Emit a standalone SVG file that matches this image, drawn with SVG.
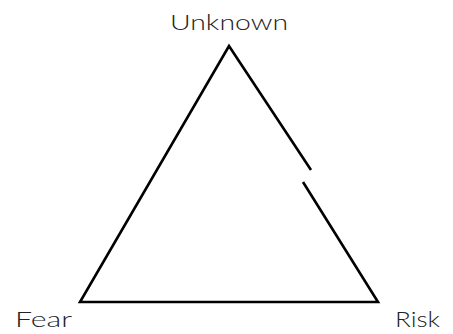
<svg xmlns="http://www.w3.org/2000/svg" width="453" height="334" viewBox="0 0 453 334">
<style>
.lbl{font-family:Lato,"Liberation Sans",sans-serif;font-weight:300;font-size:21px;fill:#222;}
.edge{stroke:#000;stroke-width:2.6;fill:none;stroke-linecap:butt;stroke-linejoin:miter;}
</style>
<rect width="453" height="334" fill="#fff"/>
<g id="connectors">
<path class="edge" d="M311,170 L229,46 L80,302 L378,302 L303,182"/>
</g>
<g id="node-unknown"><text class="lbl" x="170" y="30" textLength="118" lengthAdjust="spacingAndGlyphs">Unknown</text></g>
<g id="node-fear"><text class="lbl" x="15" y="327" textLength="57" lengthAdjust="spacingAndGlyphs">Fear</text></g>
<g id="node-risk"><text class="lbl" x="395" y="327" textLength="45" lengthAdjust="spacingAndGlyphs">Risk</text></g>
</svg>
